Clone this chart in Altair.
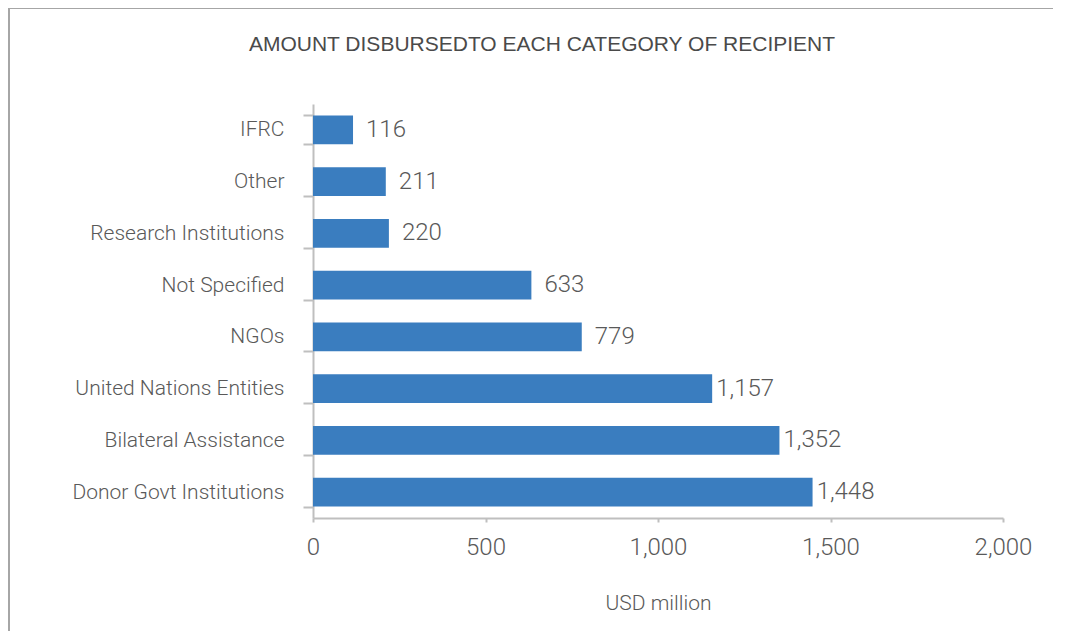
import altair as alt
import pandas as pd

title_text = ["AMOUNT DISBURSEDTO EACH CATEGORY OF RECIPIENT"]
categories = ["IFRC", "Other", "Research Institutions", "Not Specified", "NGOs",
              "United Nations Entities", "Bilateral Assistance", "Donor Govt Institutions"]
values = [116, 211, 220, 633, 779, 1157, 1352, 1448]
x_ticks = [0, 500, 1000, 1500, 2000]

df = pd.DataFrame({"category": categories, "value": values})
title_df = pd.DataFrame({"t": title_text})

LABEL_FONT = "Roboto"
GREY = "#595959"
AXIS_GREY = "#bfbfbf"

y_enc = alt.Y("category:N", sort=categories,
              scale=alt.Scale(paddingInner=0.44, paddingOuter=0.22),
              axis=alt.Axis(title=None, tickBand="extent", tickSize=10, tickColor=AXIS_GREY,
                            tickWidth=2, domainColor=AXIS_GREY, domainWidth=2,
                            labelFont=LABEL_FONT, labelFontSize=21, labelFontWeight=300,
                            labelColor=GREY, labelPadding=19, labelLimit=400, grid=False))

x_enc = alt.X("value:Q", scale=alt.Scale(domain=[0, 2000], nice=False),
              axis=alt.Axis(title="USD million", values=x_ticks, format=",d",
                            labelFlush=False,
                            tickSize=4, tickColor=AXIS_GREY, tickWidth=2,
                            domainColor=AXIS_GREY, domainWidth=2,
                            labelFont=LABEL_FONT, labelFontSize=24, labelFontWeight=300,
                            labelColor=GREY, labelPadding=13,
                            titleFont=LABEL_FONT, titleFontSize=21, titleColor=GREY,
                            titleFontWeight=300, titlePadding=33, grid=False))

bars = alt.Chart(df).mark_bar(color="#3a7dbf").encode(y=y_enc, x=x_enc)

text = alt.Chart(df).mark_text(align="center", baseline="middle", dx=33,
                               font=LABEL_FONT, fontSize=24, fontWeight=300, color=GREY).encode(
    y=alt.Y("category:N", sort=categories),
    x="value:Q",
    text=alt.Text("value:Q", format=",d"))

title = alt.Chart(title_df).mark_text(align="center", baseline="middle",
                                      font="Liberation Sans", fontSize=21,
                                      color="#4a4a4a").encode(
    x=alt.value(229), y=alt.value(-59), text="t:N")

border_top = alt.Chart(df).mark_rule(color="#a6a6a6", strokeWidth=2).encode(
    x=alt.value(-305), x2=alt.value(760), y=alt.value(-96))
border_left = alt.Chart(df).mark_rule(color="#a6a6a6", strokeWidth=2).encode(
    x=alt.value(-304), y=alt.value(-96), y2=alt.value(560))

chart = alt.layer(border_top, border_left, title, bars, text).properties(
    width=690, height=414,
    autosize=alt.AutoSizeParams(type="none"),
    padding={"left": 305, "top": 96, "right": 50, "bottom": 113},
).configure_view(stroke=None)

chart.save("out.html", embed_options={"renderer": "svg", "actions": False})
